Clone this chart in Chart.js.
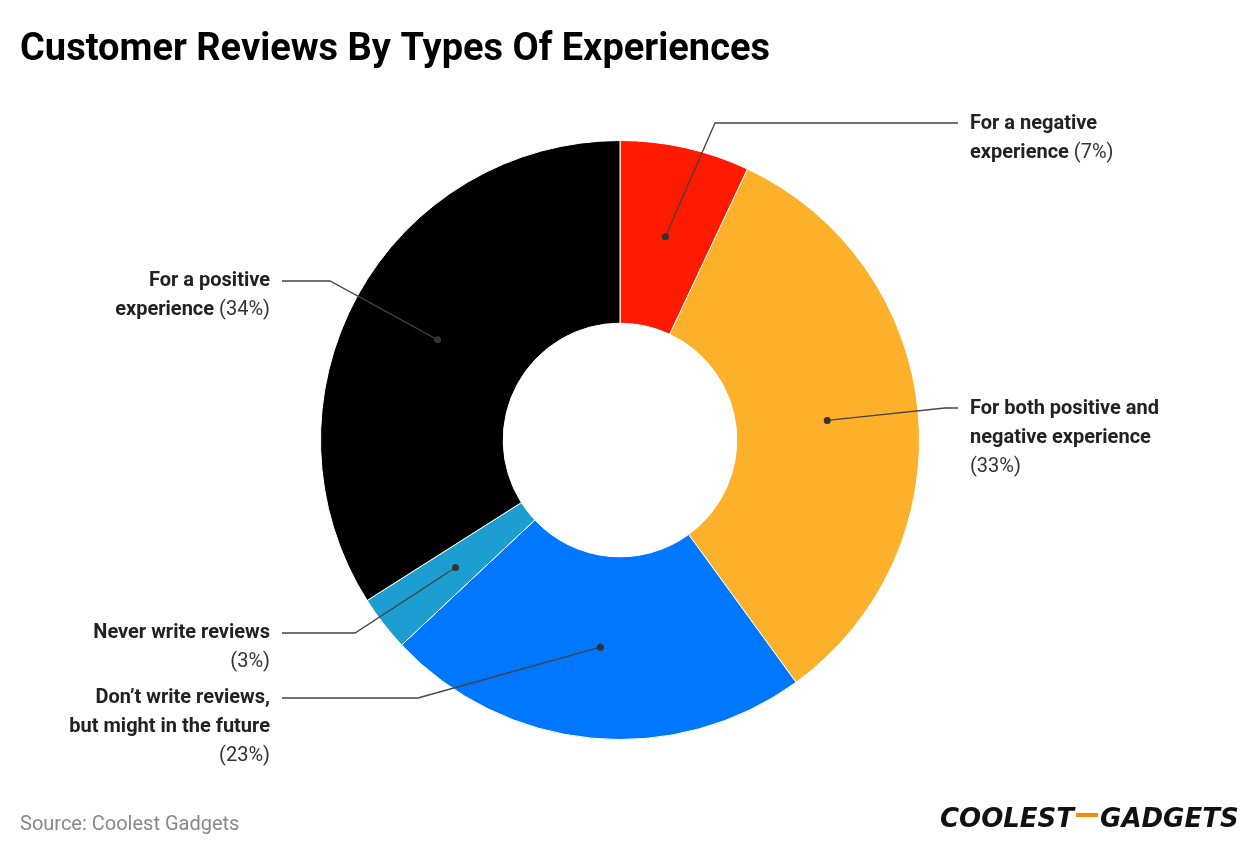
<!DOCTYPE html>
<html><head><meta charset="utf-8">
<script src="https://cdn.jsdelivr.net/npm/chart.js@4"></script>
<style>html,body{margin:0;padding:0;background:#fff}#c{display:block}</style>
</head><body>
<div style="width:1240px;height:856px"><canvas id="c"></canvas></div>
<script>
const categories=["For a negative experience","For both positive and negative experience","Don’t write reviews, but might in the future","Never write reviews","For a positive experience"];
const values=[7,33,23,3,34];
const colors=["#FF1A00","#FDB12B","#0077FF","#1C9FD0","#000000"];
// label layout: lines of [bold,normal] segments, elbow, text anchor
const labelLines=[
 [[["For a negative",""]],[["experience ","(7%)"]]],
 [[["For both positive and",""]],[["negative experience",""]],[["","(33%)"]]],
 [[["Don’t write reviews,",""]],[["but might in the future",""]],[["","(23%)"]]],
 [[["Never write reviews",""]],[["","(3%)"]]],
 [[["For a positive",""]],[["experience ","(34%)"]]]
];
const layout=[
 {elbow:[715,123],end:[958,123],tx:970,ty:124,align:'left'},
 {elbow:[945,408],end:[958,408],tx:970,ty:409,align:'left'},
 {elbow:[418,698],end:[282,698],tx:270,ty:698,align:'right'},
 {elbow:[355,633],end:[282,633],tx:270,ty:633,align:'right'},
 {elbow:[330,281],end:[282,281],tx:270,ty:281,align:'right'}
];
const deco={id:'deco',afterDraw(ch){
 const c=ch.ctx;const meta=ch.getDatasetMeta(0);
 c.save();
 c.fillStyle='#000';c.font='bold 38px Roboto';c.textBaseline='alphabetic';c.textAlign='left';
 c.fillText('Customer Reviews By Types Of Experiences',20,60);
 meta.data.forEach((a,i)=>{
  const p=a.getProps(['x','y','startAngle','endAngle','innerRadius','outerRadius'],true);
  const m=(p.startAngle+p.endAngle)/2,r=(p.innerRadius+p.outerRadius)/2;
  const dx=p.x+Math.cos(m)*r,dy=p.y+Math.sin(m)*r;
  const L=layout[i];
  c.strokeStyle='#444';c.lineWidth=1.3;c.beginPath();c.moveTo(dx,dy);c.lineTo(...L.elbow);c.lineTo(...L.end);c.stroke();
  c.fillStyle='#333';c.beginPath();c.arc(dx,dy,3.5,0,Math.PI*2);c.fill();
  c.textBaseline='middle';
  labelLines[i].forEach((ln,k)=>{
   const [b,n]=ln[0];const y=L.ty+k*29;
   c.font='bold 20px Roboto';const wb=c.measureText(b).width;
   c.font='20px Roboto';const wn=c.measureText(n).width;
   let x=L.align==='left'?L.tx:L.tx-wb-wn;
   c.textAlign='left';
   c.fillStyle='#222';c.font='bold 20px Roboto';c.fillText(b,x,y);
   c.fillStyle='#333';c.font='20px Roboto';c.fillText(n,x+wb,y);
  });
 });
 c.textBaseline='alphabetic';c.textAlign='left';
 c.fillStyle='#888';c.font='20px Roboto';c.fillText('Source: Coolest Gadgets',20,830);
 c.font='italic 900 26px "DejaVu Sans"';c.fillStyle='#111';
 let x=940;c.fillText('COOLEST',x,827);x+=c.measureText('COOLEST').width+2;
 c.fillStyle='#F28C00';c.fillRect(x,813,22,4);x+=24;
 c.fillStyle='#111';c.fillText('GADGETS',x,827);
 c.restore();
}};
new Chart(document.getElementById('c'),{type:'doughnut',
 data:{labels:categories,datasets:[{data:values,backgroundColor:colors,borderColor:'#fff',borderWidth:1}]},
 options:{responsive:true,maintainAspectRatio:false,animation:false,cutout:'39%',
  layout:{padding:{top:140,bottom:116,left:320,right:320}},
  plugins:{legend:{display:false},tooltip:{enabled:false}}},
 plugins:[deco]});
</script></body></html>
